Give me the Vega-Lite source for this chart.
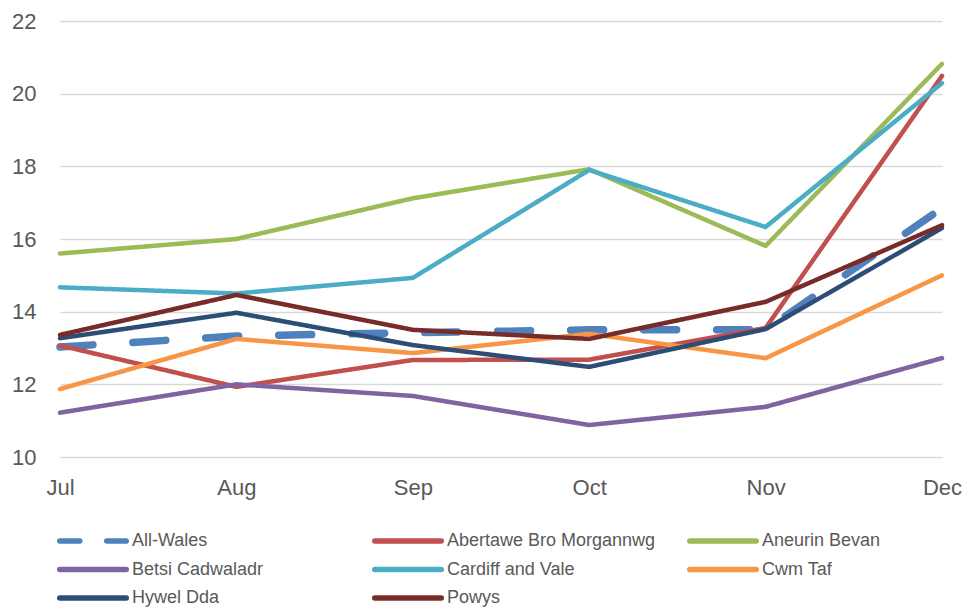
{
  "$schema": "https://vega.github.io/schema/vega-lite/v6.json",
  "width": 882,
  "height": 436,
  "autosize": {"type": "none"},
  "padding": {"left": 60, "top": 21, "right": 26, "bottom": 150},
  "background": "white",
  "config": {
    "view": {"stroke": null},
    "font": "Liberation Sans"
  },
  "data": {
    "values": [
      {"month": "Jul", "series": "All-Wales", "value": 13.03},
      {"month": "Aug", "series": "All-Wales", "value": 13.33},
      {"month": "Sep", "series": "All-Wales", "value": 13.42},
      {"month": "Oct", "series": "All-Wales", "value": 13.5},
      {"month": "Nov", "series": "All-Wales", "value": 13.5},
      {"month": "Dec", "series": "All-Wales", "value": 16.85},
      {"month": "Jul", "series": "Abertawe Bro Morgannwg", "value": 13.07},
      {"month": "Aug", "series": "Abertawe Bro Morgannwg", "value": 11.93},
      {"month": "Sep", "series": "Abertawe Bro Morgannwg", "value": 12.67},
      {"month": "Oct", "series": "Abertawe Bro Morgannwg", "value": 12.68},
      {"month": "Nov", "series": "Abertawe Bro Morgannwg", "value": 13.55},
      {"month": "Dec", "series": "Abertawe Bro Morgannwg", "value": 20.49},
      {"month": "Jul", "series": "Aneurin Bevan", "value": 15.6},
      {"month": "Aug", "series": "Aneurin Bevan", "value": 16.0},
      {"month": "Sep", "series": "Aneurin Bevan", "value": 17.12},
      {"month": "Oct", "series": "Aneurin Bevan", "value": 17.92},
      {"month": "Nov", "series": "Aneurin Bevan", "value": 15.81},
      {"month": "Dec", "series": "Aneurin Bevan", "value": 20.82},
      {"month": "Jul", "series": "Betsi Cadwaladr", "value": 11.22},
      {"month": "Aug", "series": "Betsi Cadwaladr", "value": 12.0},
      {"month": "Sep", "series": "Betsi Cadwaladr", "value": 11.68},
      {"month": "Oct", "series": "Betsi Cadwaladr", "value": 10.88},
      {"month": "Nov", "series": "Betsi Cadwaladr", "value": 11.38},
      {"month": "Dec", "series": "Betsi Cadwaladr", "value": 12.72},
      {"month": "Jul", "series": "Cardiff and Vale", "value": 14.67},
      {"month": "Aug", "series": "Cardiff and Vale", "value": 14.5},
      {"month": "Sep", "series": "Cardiff and Vale", "value": 14.93},
      {"month": "Oct", "series": "Cardiff and Vale", "value": 17.9},
      {"month": "Nov", "series": "Cardiff and Vale", "value": 16.33},
      {"month": "Dec", "series": "Cardiff and Vale", "value": 20.29},
      {"month": "Jul", "series": "Cwm Taf", "value": 11.87},
      {"month": "Aug", "series": "Cwm Taf", "value": 13.25},
      {"month": "Sep", "series": "Cwm Taf", "value": 12.86},
      {"month": "Oct", "series": "Cwm Taf", "value": 13.39},
      {"month": "Nov", "series": "Cwm Taf", "value": 12.72},
      {"month": "Dec", "series": "Cwm Taf", "value": 15.0},
      {"month": "Jul", "series": "Hywel Dda", "value": 13.27},
      {"month": "Aug", "series": "Hywel Dda", "value": 13.97},
      {"month": "Sep", "series": "Hywel Dda", "value": 13.08},
      {"month": "Oct", "series": "Hywel Dda", "value": 12.48},
      {"month": "Nov", "series": "Hywel Dda", "value": 13.52},
      {"month": "Dec", "series": "Hywel Dda", "value": 16.3},
      {"month": "Jul", "series": "Powys", "value": 13.36},
      {"month": "Aug", "series": "Powys", "value": 14.46},
      {"month": "Sep", "series": "Powys", "value": 13.5},
      {"month": "Oct", "series": "Powys", "value": 13.25},
      {"month": "Nov", "series": "Powys", "value": 14.27},
      {"month": "Dec", "series": "Powys", "value": 16.38}
    ]
  },
  "mark": {"type": "line", "strokeCap": "round", "strokeJoin": "round"},
  "encoding": {
    "x": {
      "field": "month",
      "type": "ordinal",
      "sort": ["Jul", "Aug", "Sep", "Oct", "Nov", "Dec"],
      "scale": {"type": "point", "padding": 0},
      "axis": {
        "title": null,
        "labelAngle": 0,
        "labelFontSize": 22,
        "labelColor": "#595959",
        "labelPadding": 20,
        "ticks": false,
        "domain": false,
        "grid": false
      }
    },
    "y": {
      "field": "value",
      "type": "quantitative",
      "scale": {"domain": [10, 22], "nice": false, "zero": false},
      "axis": {
        "title": null,
        "values": [10, 12, 14, 16, 18, 20, 22],
        "labelFontSize": 22,
        "labelColor": "#595959",
        "labelPadding": 24,
        "ticks": false,
        "domain": false,
        "grid": true,
        "gridColor": "#d9d9d9",
        "gridWidth": 1.3
      }
    },
    "color": {
      "field": "series",
      "type": "nominal",
      "sort": ["All-Wales", "Abertawe Bro Morgannwg", "Aneurin Bevan", "Betsi Cadwaladr", "Cardiff and Vale", "Cwm Taf", "Hywel Dda", "Powys"],
      "scale": {
        "domain": ["All-Wales", "Abertawe Bro Morgannwg", "Aneurin Bevan", "Betsi Cadwaladr", "Cardiff and Vale", "Cwm Taf", "Hywel Dda", "Powys"],
        "range": ["#4F81BD", "#C0504D", "#9BBB59", "#8064A2", "#4BACC6", "#F79646", "#2C4D75", "#772C2A"]
      },
      "legend": {
        "title": null,
        "orient": "none",
        "legendX": 16,
        "legendY": 503,
        "padding": 0,
        "columns": 3,
        "direction": "horizontal",
        "gridAlign": "all",
        "columnPadding": 22,
        "rowPadding": 0.5,
        "symbolType": "M-2.375,0H2.375",
        "symbolSize": 784,
        "symbolStrokeWidth": 5.5,
        "labelFontSize": 18,
        "labelColor": "#595959",
        "labelOffset": 22,
        "labelLimit": 300,
        "encode": {
          "symbols": {
            "update": {
              "strokeCap": {"value": "round"},
              "strokeDash": {"signal": "datum.value === 'All-Wales' ? [20, 27] : [1, 0]"}
            }
          }
        }
      }
    },
    "strokeDash": {
      "condition": {"test": "datum.series === 'All-Wales'", "value": [33, 40]},
      "value": [1, 0]
    },
    "strokeWidth": {
      "condition": {"test": "datum.series === 'All-Wales'", "value": 7.5},
      "value": 4.5
    }
  }
}
